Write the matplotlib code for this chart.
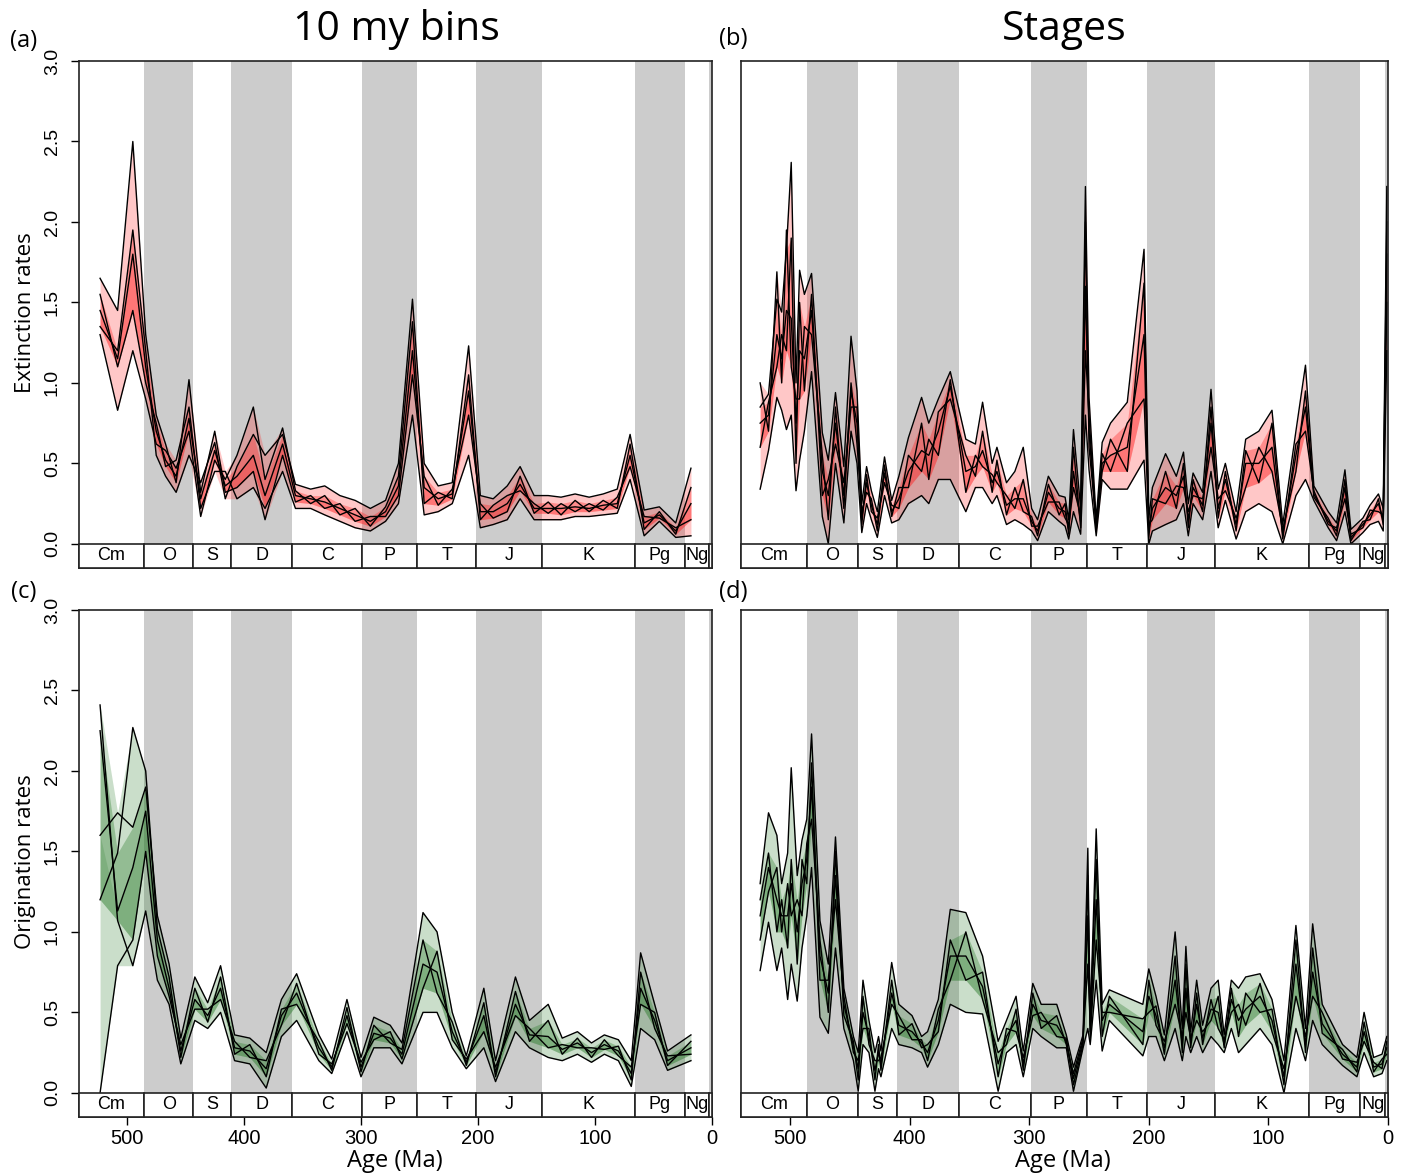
import numpy as np
import matplotlib
matplotlib.use("Agg")
import matplotlib.pyplot as plt
from matplotlib.patches import Rectangle

# geological periods (Ma) used for the background bands and the bottom bar
period_names = ["Cm", "O", "S", "D", "C", "P", "T", "J", "K", "Pg", "Ng", ""]
period_bounds = [541, 485.4, 443.4, 410.8, 358.9, 298.9, 251.9, 201.3, 145.0, 66.0, 23.0, 2.58, 0]
period_gray = [False, True, False, True, False, True, False, True, False, True, False, True]

# (a) extinction rates, 10 my bins: one row per bin, 5 replicate values per row
ext_bins_age = [523, 508, 495, 484, 475, 467, 458, 447, 437, 425, 416, 406, 392, 382, 367,
                356, 343, 331, 318, 305, 292, 279, 268, 256, 246, 234, 222, 208, 198, 187,
                175, 164, 152, 140, 129, 117, 105, 93, 81, 70, 58, 45, 31, 18]
ext_bins = [
    [1.45, 1.30, 1.65, 1.35, 1.55], [1.15, 0.83, 1.45, 1.20, 1.10], [1.80, 1.20, 2.50, 1.95, 1.45],
    [1.10, 0.90, 1.30, 1.20, 1.00], [0.70, 0.62, 0.80, 0.55, 0.75], [0.52, 0.58, 0.62, 0.42, 0.48],
    [0.42, 0.47, 0.38, 0.32, 0.52], [0.78, 0.70, 1.02, 0.55, 0.85], [0.28, 0.17, 0.32, 0.38, 0.22],
    [0.58, 0.52, 0.70, 0.63, 0.45], [0.36, 0.40, 0.32, 0.28, 0.45], [0.42, 0.55, 0.35, 0.48, 0.28],
    [0.55, 0.85, 0.45, 0.68, 0.35], [0.30, 0.40, 0.15, 0.55, 0.22], [0.62, 0.72, 0.55, 0.68, 0.45],
    [0.30, 0.33, 0.26, 0.37, 0.22], [0.28, 0.25, 0.30, 0.34, 0.22], [0.26, 0.30, 0.22, 0.36, 0.18],
    [0.22, 0.18, 0.25, 0.30, 0.14], [0.18, 0.22, 0.14, 0.27, 0.10], [0.14, 0.11, 0.17, 0.22, 0.08],
    [0.20, 0.23, 0.17, 0.27, 0.14], [0.36, 0.42, 0.30, 0.50, 0.25], [1.20, 1.38, 1.05, 1.52, 0.80],
    [0.35, 0.25, 0.42, 0.50, 0.18], [0.28, 0.32, 0.24, 0.36, 0.20], [0.31, 0.28, 0.34, 0.38, 0.25],
    [0.95, 1.05, 0.80, 1.23, 0.55], [0.20, 0.15, 0.25, 0.30, 0.10], [0.20, 0.24, 0.16, 0.28, 0.12],
    [0.25, 0.30, 0.20, 0.36, 0.15], [0.37, 0.33, 0.42, 0.48, 0.28], [0.22, 0.25, 0.19, 0.30, 0.15],
    [0.22, 0.19, 0.26, 0.30, 0.15], [0.22, 0.25, 0.18, 0.29, 0.15], [0.23, 0.20, 0.27, 0.31, 0.17],
    [0.22, 0.25, 0.20, 0.29, 0.17], [0.24, 0.21, 0.27, 0.31, 0.18], [0.25, 0.29, 0.22, 0.34, 0.19],
    [0.55, 0.48, 0.62, 0.68, 0.40], [0.13, 0.17, 0.09, 0.21, 0.05], [0.18, 0.16, 0.20, 0.23, 0.14],
    [0.08, 0.10, 0.06, 0.13, 0.04], [0.25, 0.15, 0.35, 0.47, 0.05],
]

# (b) extinction rates, stages
ext_st_age = [525, 518, 511, 507, 503, 499, 495, 492, 488, 482, 473, 468, 462, 455, 449,
              444, 440, 436, 432, 427, 421, 415, 409, 401, 390, 384, 376, 366, 353, 345,
              339, 331, 327, 319, 312, 305, 298, 293, 284, 275, 270, 267, 263, 257, 253,
              250, 244, 239, 232, 218, 204, 200, 197, 186, 177, 171, 167, 163, 155, 148,
              142, 136, 127, 119, 108, 97, 88, 77, 69, 62, 50, 43, 36, 31, 21,
              15, 8, 4, 1]
ext_st = [
    [0.75, 0.60, 1.00, 0.85, 0.34], [0.80, 0.88, 0.70, 0.93, 0.58], [1.30, 1.10, 1.69, 1.52, 0.91],
    [1.15, 1.30, 1.00, 1.44, 0.83], [1.45, 1.20, 1.95, 1.83, 0.71], [1.40, 1.90, 1.10, 2.37, 0.80],
    [0.75, 0.50, 0.90, 1.00, 0.33], [1.20, 1.50, 0.90, 1.70, 0.52], [1.15, 0.95, 1.35, 1.55, 0.70],
    [1.45, 1.55, 1.30, 1.68, 1.07], [0.45, 0.30, 0.55, 0.69, 0.17], [0.30, 0.40, 0.15, 0.52, 0.00],
    [0.75, 0.62, 0.85, 0.94, 0.50], [0.30, 0.38, 0.22, 0.48, 0.13], [0.95, 0.85, 1.00, 1.29, 0.70],
    [0.75, 0.85, 0.62, 0.95, 0.50], [0.16, 0.12, 0.20, 0.25, 0.07], [0.38, 0.43, 0.32, 0.48, 0.25],
    [0.24, 0.20, 0.28, 0.33, 0.15], [0.12, 0.16, 0.08, 0.20, 0.04], [0.44, 0.38, 0.49, 0.54, 0.30],
    [0.20, 0.24, 0.17, 0.27, 0.13], [0.28, 0.22, 0.35, 0.42, 0.15], [0.45, 0.55, 0.35, 0.66, 0.25],
    [0.58, 0.45, 0.75, 0.91, 0.30], [0.55, 0.65, 0.40, 0.75, 0.25], [0.70, 0.55, 0.82, 0.90, 0.40],
    [0.98, 1.02, 0.90, 1.07, 0.40], [0.45, 0.32, 0.55, 0.65, 0.20], [0.48, 0.55, 0.42, 0.62, 0.35],
    [0.58, 0.48, 0.70, 0.88, 0.35], [0.38, 0.43, 0.32, 0.50, 0.25], [0.45, 0.38, 0.52, 0.60, 0.30],
    [0.24, 0.30, 0.18, 0.38, 0.12], [0.28, 0.22, 0.35, 0.45, 0.15], [0.28, 0.40, 0.20, 0.60, 0.12],
    [0.14, 0.11, 0.17, 0.22, 0.08], [0.08, 0.11, 0.05, 0.15, 0.02], [0.32, 0.26, 0.37, 0.42, 0.20],
    [0.22, 0.26, 0.18, 0.30, 0.14], [0.20, 0.16, 0.25, 0.29, 0.11], [0.09, 0.12, 0.06, 0.15, 0.03],
    [0.45, 0.35, 0.60, 0.71, 0.20], [0.14, 0.18, 0.10, 0.22, 0.06], [1.60, 1.20, 2.00, 2.22, 0.80],
    [0.70, 0.80, 0.60, 0.91, 0.46], [0.11, 0.08, 0.13, 0.15, 0.05], [0.50, 0.56, 0.45, 0.63, 0.40],
    [0.55, 0.45, 0.65, 0.75, 0.34], [0.60, 0.75, 0.45, 0.88, 0.34], [1.30, 0.90, 1.62, 1.83, 0.52],
    [0.08, 0.12, 0.04, 0.16, 0.00], [0.22, 0.15, 0.28, 0.35, 0.08], [0.35, 0.45, 0.25, 0.56, 0.12],
    [0.30, 0.22, 0.36, 0.42, 0.15], [0.42, 0.50, 0.35, 0.57, 0.25], [0.15, 0.10, 0.20, 0.25, 0.05],
    [0.35, 0.40, 0.30, 0.44, 0.25], [0.24, 0.20, 0.28, 0.32, 0.15], [0.75, 0.85, 0.60, 0.96, 0.45],
    [0.22, 0.16, 0.28, 0.34, 0.10], [0.40, 0.45, 0.33, 0.50, 0.27], [0.12, 0.08, 0.16, 0.20, 0.03],
    [0.50, 0.58, 0.35, 0.65, 0.20], [0.50, 0.38, 0.60, 0.70, 0.25], [0.60, 0.75, 0.45, 0.83, 0.20],
    [0.06, 0.03, 0.09, 0.12, 0.00], [0.55, 0.62, 0.45, 0.70, 0.30], [0.85, 0.70, 0.95, 1.11, 0.40],
    [0.31, 0.33, 0.29, 0.36, 0.27], [0.14, 0.12, 0.16, 0.20, 0.10], [0.08, 0.10, 0.05, 0.13, 0.02],
    [0.35, 0.28, 0.40, 0.46, 0.20], [0.04, 0.06, 0.02, 0.09, 0.00], [0.12, 0.10, 0.14, 0.16, 0.07],
    [0.18, 0.21, 0.15, 0.24, 0.12], [0.25, 0.20, 0.28, 0.31, 0.14], [0.15, 0.18, 0.12, 0.22, 0.08],
    [1.80, 1.50, 2.00, 2.22, 1.20],
]

# (c) origination rates, 10 my bins
orig_bins_age = [523, 508, 495, 484, 474, 464, 454, 442, 431, 420, 408, 395, 381, 368, 355,
                 336, 325, 312, 300, 289, 275, 265, 247, 235, 222, 210, 195, 185, 168, 156,
                 140, 128, 115, 103, 92, 80, 69, 61, 49, 38, 18]
orig_bins = [
    [2.25, 1.20, 0.00, 1.60, 2.41], [1.13, 1.49, 0.79, 1.74, 1.07], [1.40, 2.27, 0.95, 1.65, 0.79],
    [1.75, 2.00, 1.50, 1.90, 1.13], [0.95, 1.02, 0.85, 1.10, 0.70], [0.65, 0.72, 0.60, 0.80, 0.55],
    [0.26, 0.22, 0.30, 0.34, 0.18], [0.58, 0.65, 0.52, 0.72, 0.45], [0.48, 0.44, 0.52, 0.56, 0.40],
    [0.65, 0.72, 0.58, 0.79, 0.50], [0.28, 0.24, 0.32, 0.36, 0.20], [0.26, 0.30, 0.22, 0.34, 0.18],
    [0.15, 0.10, 0.20, 0.25, 0.03], [0.48, 0.52, 0.42, 0.58, 0.35], [0.62, 0.55, 0.68, 0.74, 0.45],
    [0.28, 0.32, 0.24, 0.36, 0.20], [0.16, 0.14, 0.18, 0.21, 0.12], [0.48, 0.53, 0.43, 0.58, 0.38],
    [0.16, 0.13, 0.19, 0.22, 0.10], [0.37, 0.42, 0.33, 0.47, 0.28], [0.34, 0.31, 0.38, 0.42, 0.28],
    [0.24, 0.27, 0.21, 0.31, 0.18], [0.80, 0.95, 0.65, 1.12, 0.50], [0.75, 0.62, 0.88, 1.00, 0.50],
    [0.38, 0.44, 0.33, 0.50, 0.28], [0.19, 0.17, 0.21, 0.23, 0.15], [0.48, 0.56, 0.38, 0.65, 0.28],
    [0.13, 0.10, 0.16, 0.20, 0.07], [0.55, 0.63, 0.48, 0.72, 0.38], [0.36, 0.32, 0.40, 0.45, 0.28],
    [0.35, 0.45, 0.28, 0.55, 0.22], [0.27, 0.24, 0.30, 0.34, 0.20], [0.31, 0.34, 0.28, 0.38, 0.24],
    [0.25, 0.22, 0.28, 0.31, 0.19], [0.30, 0.33, 0.27, 0.36, 0.24], [0.26, 0.23, 0.29, 0.33, 0.20],
    [0.12, 0.16, 0.08, 0.20, 0.04], [0.65, 0.55, 0.75, 0.87, 0.40], [0.45, 0.50, 0.40, 0.55, 0.33],
    [0.20, 0.17, 0.23, 0.26, 0.14], [0.28, 0.32, 0.24, 0.36, 0.20],
]

# (d) origination rates, stages
orig_st_age = [525, 518, 511, 507, 502, 499, 494, 490, 486, 482, 475, 468, 462, 455, 447,
               443, 439, 434, 429, 426, 424, 415, 409, 398, 390, 385, 376, 366, 353, 339,
               326, 319, 311, 305, 297, 290, 277, 269, 263, 255, 251, 249, 244, 239, 233,
               205, 200, 194, 187, 178, 172, 169, 165, 160, 155, 148, 142, 137, 131, 125,
               119, 107, 97, 87, 77, 69, 63, 55, 38, 26, 20, 12, 5, 1]
orig_st = [
    [1.10, 0.95, 1.20, 1.30, 0.76], [1.40, 1.25, 1.49, 1.74, 1.06], [1.20, 1.40, 1.00, 1.60, 0.76],
    [1.10, 1.00, 1.20, 1.30, 0.90], [1.10, 1.30, 0.90, 1.49, 0.58], [1.30, 1.10, 1.45, 2.02, 0.80],
    [1.00, 1.20, 0.80, 1.35, 0.57], [1.30, 1.10, 1.45, 1.57, 0.90], [1.45, 1.55, 1.30, 1.70, 1.10],
    [1.90, 1.70, 2.05, 2.23, 1.40], [0.85, 0.95, 0.70, 1.07, 0.47], [0.62, 0.50, 0.70, 0.80, 0.37],
    [1.35, 1.50, 1.20, 1.59, 0.90], [0.55, 0.48, 0.60, 0.65, 0.40], [0.29, 0.32, 0.25, 0.35, 0.20],
    [0.15, 0.08, 0.20, 0.25, 0.01], [0.50, 0.60, 0.40, 0.70, 0.30], [0.35, 0.30, 0.40, 0.45, 0.25],
    [0.14, 0.20, 0.08, 0.25, 0.01], [0.25, 0.20, 0.30, 0.35, 0.15], [0.18, 0.22, 0.14, 0.26, 0.10],
    [0.62, 0.55, 0.70, 0.81, 0.40], [0.42, 0.48, 0.36, 0.55, 0.30], [0.38, 0.33, 0.43, 0.48, 0.28],
    [0.31, 0.33, 0.28, 0.35, 0.25], [0.25, 0.20, 0.30, 0.38, 0.16], [0.45, 0.52, 0.38, 0.58, 0.30],
    [0.85, 0.70, 0.95, 1.14, 0.55], [0.85, 1.00, 0.70, 1.12, 0.50], [0.66, 0.58, 0.75, 0.85, 0.49],
    [0.18, 0.25, 0.10, 0.32, 0.01], [0.35, 0.30, 0.40, 0.45, 0.25], [0.45, 0.52, 0.38, 0.60, 0.30],
    [0.18, 0.14, 0.22, 0.26, 0.10], [0.55, 0.62, 0.48, 0.68, 0.40], [0.45, 0.40, 0.50, 0.55, 0.35],
    [0.42, 0.48, 0.35, 0.55, 0.28], [0.32, 0.30, 0.34, 0.36, 0.28], [0.09, 0.12, 0.05, 0.16, 0.01],
    [0.32, 0.34, 0.30, 0.36, 0.28], [1.10, 0.80, 1.35, 1.52, 0.40], [0.38, 0.42, 0.34, 0.46, 0.30],
    [1.20, 1.45, 0.95, 1.64, 0.70], [0.45, 0.35, 0.50, 0.55, 0.26], [0.55, 0.60, 0.50, 0.64, 0.45],
    [0.38, 0.30, 0.46, 0.55, 0.23], [0.60, 0.70, 0.50, 0.77, 0.35], [0.48, 0.42, 0.54, 0.60, 0.35],
    [0.28, 0.32, 0.24, 0.36, 0.20], [0.70, 0.55, 0.85, 1.00, 0.40], [0.30, 0.35, 0.25, 0.40, 0.20],
    [0.65, 0.50, 0.80, 0.91, 0.35], [0.31, 0.34, 0.28, 0.38, 0.25], [0.55, 0.45, 0.62, 0.70, 0.35],
    [0.34, 0.38, 0.30, 0.42, 0.25], [0.52, 0.45, 0.58, 0.65, 0.35], [0.50, 0.60, 0.40, 0.70, 0.30],
    [0.30, 0.28, 0.33, 0.36, 0.25], [0.58, 0.65, 0.50, 0.70, 0.40], [0.45, 0.35, 0.55, 0.65, 0.25],
    [0.52, 0.62, 0.42, 0.72, 0.30], [0.60, 0.50, 0.68, 0.74, 0.40], [0.45, 0.52, 0.38, 0.58, 0.30],
    [0.10, 0.05, 0.15, 0.20, 0.00], [0.80, 0.95, 0.60, 1.04, 0.40], [0.30, 0.25, 0.35, 0.40, 0.20],
    [0.75, 0.90, 0.60, 1.05, 0.45], [0.43, 0.37, 0.50, 0.55, 0.30], [0.24, 0.27, 0.21, 0.30, 0.17],
    [0.16, 0.13, 0.19, 0.22, 0.10], [0.38, 0.44, 0.32, 0.50, 0.25], [0.16, 0.13, 0.19, 0.22, 0.10],
    [0.18, 0.21, 0.15, 0.24, 0.12], [0.28, 0.24, 0.32, 0.35, 0.20],
]

W, H = 1407, 1176
BAR = 0.15
TICKFONT = "Liberation Sans"
LABFONT = "Open Sans"


def px_axes(left, top, right, bottom):
    return [left / W, 1 - bottom / H, (right - left) / W, (bottom - top) / H]


def draw_panel(ax, ages, rows, col, left_axis, bottom_axis):
    vals = np.array(rows).T
    srt = np.sort(vals, axis=0)
    ax.set_xlim(541, 0)
    ax.set_ylim(-BAR, 3.0)

    for i in range(len(period_names)):
        if period_gray[i]:
            ax.axvspan(period_bounds[i + 1], period_bounds[i], color="#cccccc", lw=0, zorder=0)

    # spread of the replicates: outer range and inner range
    ax.fill_between(ages, srt[0], srt[-1], color=col, alpha=0.25, lw=0, zorder=1)
    ax.fill_between(ages, srt[1], srt[-2], color=col, alpha=0.35, lw=0, zorder=1)
    ax.fill_between(ages, srt[1], srt[2], color=col, alpha=0.2, lw=0, zorder=1)
    for v in vals:
        ax.plot(ages, v, color="black", lw=1.0, zorder=2)

    for i, name in enumerate(period_names):
        old, young = period_bounds[i], period_bounds[i + 1]
        ax.add_patch(Rectangle((young, -BAR), old - young, BAR, facecolor="white",
                               edgecolor="#222222", lw=1.2, zorder=5, clip_on=False))
        if name:
            ax.text((old + young) / 2, -BAR / 2, name, ha="center", va="center",
                    fontsize=13, family=TICKFONT, zorder=6)

    for s in ax.spines.values():
        s.set_linewidth(1.2)
        s.set_color("#222222")

    if left_axis:
        ax.set_yticks([0, 0.5, 1.0, 1.5, 2.0, 2.5, 3.0])
        ax.set_yticklabels(["0.0", "0.5", "1.0", "1.5", "2.0", "2.5", "3.0"],
                           rotation=90, va="center", family=TICKFONT)
        ax.tick_params(axis="y", length=6, width=1, pad=7, labelsize=14)
    else:
        ax.tick_params(axis="y", left=False, labelleft=False)

    if bottom_axis:
        ax.set_xticks([500, 400, 300, 200, 100, 0])
        ax.set_xticklabels(["500", "400", "300", "200", "100", "0"], family=TICKFONT)
        ax.tick_params(axis="x", length=6, width=1, pad=3, labelsize=14.5)
    else:
        ax.tick_params(axis="x", bottom=False, labelbottom=False)


fig = plt.figure(figsize=(W / 100, H / 100), dpi=100)
red = "#ff2020"
green = "#2e7d2e"

ax_a = fig.add_axes(px_axes(79, 61, 712, 568))
ax_b = fig.add_axes(px_axes(741, 61, 1388, 568))
ax_c = fig.add_axes(px_axes(79, 610, 712, 1117))
ax_d = fig.add_axes(px_axes(741, 610, 1388, 1117))

draw_panel(ax_a, ext_bins_age, ext_bins, red, True, False)
draw_panel(ax_b, ext_st_age, ext_st, red, False, False)
draw_panel(ax_c, orig_bins_age, orig_bins, green, True, True)
draw_panel(ax_d, orig_st_age, orig_st, green, False, True)


def ftext(x, y, s, **kw):
    fig.text(x / W, 1 - y / H, s, ha="center", va="center", family=LABFONT, **kw)


ftext(396, 30, "10 my bins", fontsize=29.5)
ftext(1064, 30, "Stages", fontsize=29.5)
ftext(24, 41, "(a)", fontsize=17)
ftext(733, 39, "(b)", fontsize=17)
ftext(24, 592, "(c)", fontsize=17)
ftext(733, 592, "(d)", fontsize=17)
ftext(26, 313, "Extinction rates", fontsize=16, rotation=90)
ftext(26, 862, "Origination rates", fontsize=16, rotation=90)
ftext(395, 1161, "Age (Ma)", fontsize=17)
ftext(1063, 1161, "Age (Ma)", fontsize=17)

fig.savefig("out.png", dpi=100)
